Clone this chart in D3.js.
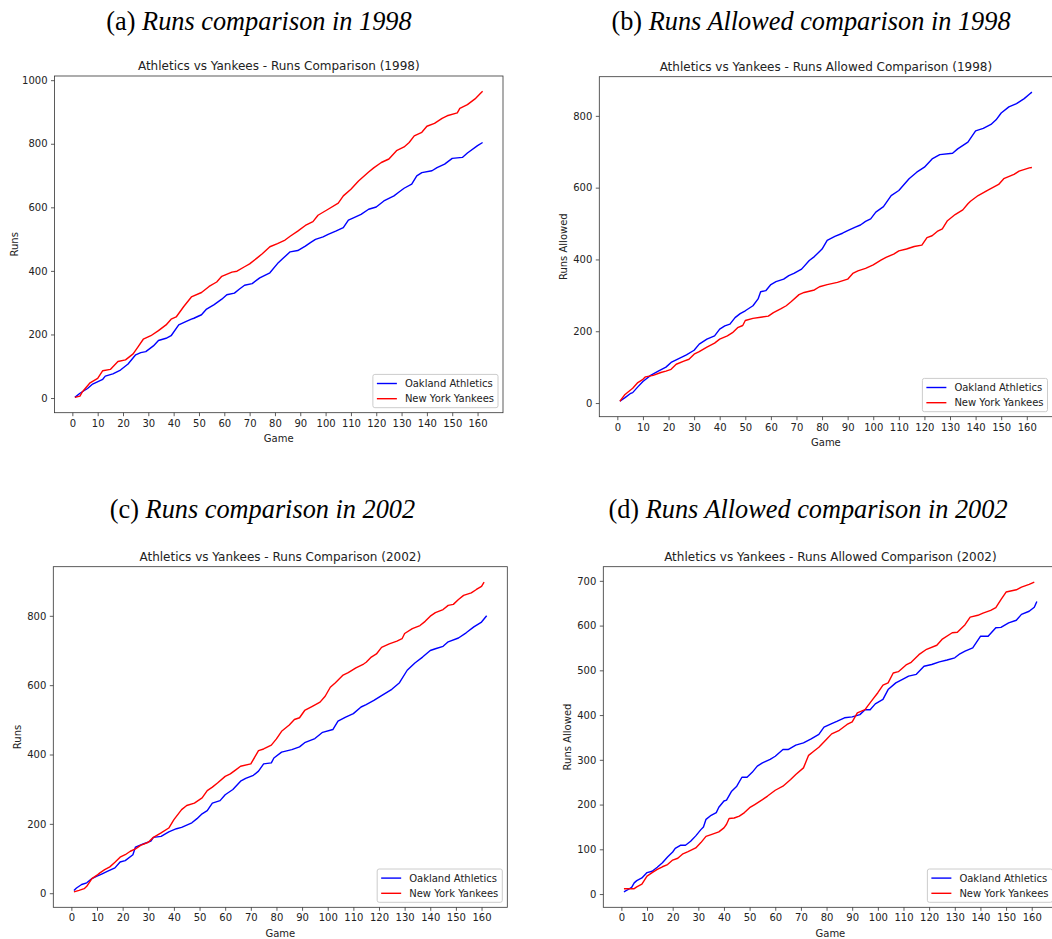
<!DOCTYPE html>
<html>
<head>
<meta charset="utf-8">
<script src="https://cdn.jsdelivr.net/npm/d3@7"></script>
<style>
body { margin: 0; background: #fff; }
svg text { font-family: "DejaVu Sans", sans-serif; fill: #222; }
svg text.caption { font-family: "Liberation Serif", "Times New Roman", serif; fill: #000; }
</style>
</head>
<body>
<svg id="chart" width="1052" height="939"></svg>
<script>
// cumulative totals: [game, total]
const athleticsRuns1998 = [[1,2],[3,15],[6,30],[8,44],[12,59],[13,69],[16,76],[19,88],[22,107],[25,136],[27,143],[29,146],[32,164],[34,181],[37,188],[39,196],[42,230],[45,241],[47,248],[48,251],[51,262],[53,280],[56,294],[59,311],[61,325],[64,330],[66,343],[68,355],[71,360],[74,378],[78,394],[81,423],[83,438],[86,460],[89,464],[92,478],[94,489],[96,499],[99,507],[101,515],[104,525],[107,536],[109,560],[111,567],[114,578],[117,594],[120,601],[123,620],[127,636],[129,648],[131,660],[134,673],[136,699],[138,709],[142,715],[144,725],[147,736],[150,754],[154,757],[156,771],[160,794],[162,804]];
const yankeesRuns1998 = [[1,2],[3,6],[4,20],[7,48],[10,62],[12,86],[15,90],[18,115],[21,120],[24,139],[26,162],[28,185],[31,196],[34,212],[37,230],[39,248],[41,255],[44,288],[47,318],[51,332],[54,351],[57,365],[59,383],[63,396],[65,399],[68,413],[70,422],[73,441],[75,454],[78,476],[81,486],[84,497],[86,509],[89,525],[92,543],[95,555],[97,575],[101,594],[105,613],[107,636],[110,657],[113,683],[117,711],[119,724],[122,741],[125,752],[128,778],[131,790],[133,804],[135,825],[138,836],[140,855],[143,864],[146,880],[148,888],[152,897],[153,911],[156,923],[159,941],[161,957],[162,965]];

const athleticsAllowed1998 = [[1,5],[3,15],[5,26],[6,29],[8,45],[10,60],[13,77],[16,89],[19,100],[21,113],[25,127],[27,134],[30,147],[32,164],[35,178],[38,187],[40,206],[42,215],[44,220],[46,238],[48,249],[50,257],[53,271],[55,290],[56,310],[58,313],[60,330],[62,338],[65,345],[67,355],[69,361],[72,373],[75,397],[77,408],[80,429],[82,453],[85,464],[88,473],[90,480],[93,490],[95,496],[97,506],[99,513],[101,532],[104,547],[107,578],[110,592],[114,625],[117,643],[120,657],[123,680],[126,692],[131,696],[133,708],[137,727],[140,758],[143,765],[146,776],[148,789],[150,808],[153,825],[156,834],[159,848],[161,860],[162,866]];
const yankeesAllowed1998 = [[1,5],[3,24],[6,41],[8,57],[10,66],[11,73],[14,77],[17,85],[19,89],[21,94],[23,108],[26,117],[28,122],[30,136],[32,143],[35,156],[38,167],[40,178],[43,187],[45,196],[47,210],[49,216],[50,230],[53,236],[56,239],[59,242],[61,252],[64,263],[66,271],[68,283],[71,302],[73,308],[77,315],[79,324],[82,330],[86,336],[90,345],[92,361],[94,368],[97,375],[100,385],[103,398],[105,406],[108,415],[110,424],[113,429],[116,436],[119,440],[121,461],[123,466],[125,478],[127,485],[129,508],[132,525],[135,538],[137,555],[138,562],[141,578],[145,594],[149,609],[151,625],[155,637],[157,646],[161,655],[162,656]];

const athleticsRuns2002 = [[1,8],[2,15],[4,25],[6,30],[8,42],[10,49],[12,56],[14,63],[17,73],[19,90],[21,94],[24,111],[25,133],[28,142],[31,150],[32,161],[35,164],[38,177],[41,186],[43,190],[47,203],[49,215],[51,229],[53,238],[55,260],[58,267],[60,284],[63,299],[66,323],[68,331],[71,340],[73,352],[75,373],[78,376],[79,390],[82,407],[86,414],[89,422],[91,434],[95,446],[98,464],[102,472],[104,496],[107,508],[110,518],[113,537],[115,544],[118,556],[121,570],[125,588],[128,607],[131,643],[134,664],[137,681],[140,700],[142,705],[145,712],[147,725],[151,736],[154,751],[157,768],[160,782],[162,800]];
const yankeesRuns2002 = [[1,4],[3,8],[5,13],[6,20],[8,42],[10,52],[11,58],[13,68],[15,76],[17,89],[19,104],[21,111],[23,121],[25,128],[27,138],[30,147],[32,161],[35,174],[38,188],[40,212],[43,241],[45,253],[48,260],[51,275],[53,296],[55,306],[57,318],[60,337],[62,344],[64,355],[66,366],[70,373],[73,411],[75,416],[78,427],[80,445],[82,467],[85,485],[87,501],[89,506],[91,527],[94,539],[97,551],[99,568],[101,594],[103,607],[106,629],[108,636],[111,650],[114,661],[115,666],[117,681],[119,690],[121,709],[124,719],[127,727],[129,734],[130,749],[133,763],[136,772],[138,784],[140,799],[142,809],[145,818],[147,830],[149,833],[151,847],[153,859],[156,866],[158,876],[160,885],[161,897]];

const athleticsAllowed2002 = [[1,5],[2,8],[4,15],[5,25],[6,30],[8,36],[10,48],[12,51],[14,60],[16,70],[18,83],[20,94],[21,102],[23,109],[25,109],[27,118],[29,130],[31,144],[32,150],[33,167],[35,176],[37,182],[38,194],[40,208],[41,210],[43,230],[45,241],[47,261],[49,261],[51,272],[53,286],[55,293],[58,301],[60,308],[63,323],[65,323],[68,333],[71,338],[74,347],[77,357],[79,373],[82,381],[84,386],[87,394],[90,396],[93,401],[95,412],[97,412],[99,425],[102,435],[104,457],[107,472],[110,481],[112,487],[115,491],[118,509],[121,513],[124,519],[127,523],[130,528],[132,537],[134,543],[137,550],[140,576],[143,576],[146,595],[148,596],[151,606],[154,612],[156,625],[159,632],[161,641],[162,654]];
const yankeesAllowed2002 = [[1,12],[3,12],[5,12],[6,16],[8,22],[10,40],[12,48],[14,55],[16,61],[18,66],[20,76],[22,80],[24,90],[26,95],[29,103],[31,115],[33,129],[35,133],[38,139],[40,148],[41,156],[42,169],[44,170],[46,174],[48,182],[50,193],[52,200],[55,211],[57,219],[60,232],[63,241],[66,256],[68,267],[71,282],[73,310],[75,319],[77,328],[80,346],[82,358],[85,366],[88,379],[90,385],[92,405],[95,412],[96,420],[98,435],[100,450],[102,467],[104,472],[106,494],[108,497],[111,512],[113,518],[116,535],[119,547],[123,556],[125,569],[129,584],[131,585],[134,602],[136,619],[139,623],[141,628],[144,634],[146,640],[148,658],[150,675],[154,680],[156,686],[159,692],[161,697]];

const gameTicks = d3.range(0, 161, 10);
const ticksRuns1998 = [0, 200, 400, 600, 800, 1000];
const ticksAllowed1998 = [0, 200, 400, 600, 800];
const ticksRuns2002 = [0, 200, 400, 600, 800];
const ticksAllowed2002 = [0, 100, 200, 300, 400, 500, 600, 700];
const seriesNames = ["Oakland Athletics", "New York Yankees"];
const seriesColors = ["blue", "red"];

const svg = d3.select("#chart");

const panels = [
    {tag: "(a)", caption: "Runs comparison in 1998", capX: 259, capY: 29.5,
     title: "Athletics vs Yankees - Runs Comparison (1998)", ylabel: "Runs", ylabelX: 18,
     box: {left: 54.5, right: 503, top: 76, bottom: 412.7},
     yTicks: ticksRuns1998, series: [athleticsRuns1998, yankeesRuns1998]},
    {tag: "(b)", caption: "Runs Allowed comparison in 1998", capX: 811, capY: 29.5,
     title: "Athletics vs Yankees - Runs Allowed Comparison (1998)", ylabel: "Runs Allowed", ylabelX: 567,
     box: {left: 599.3, right: 1052.5, top: 76.7, bottom: 416.7},
     yTicks: ticksAllowed1998, series: [athleticsAllowed1998, yankeesAllowed1998]},
    {tag: "(c)", caption: "Runs comparison in 2002", capX: 262.5, capY: 518,
     title: "Athletics vs Yankees - Runs Comparison (2002)", ylabel: "Runs", ylabelX: 21,
     box: {left: 53.3, right: 507.3, top: 566.7, bottom: 907.3},
     yTicks: ticksRuns2002, series: [athleticsRuns2002, yankeesRuns2002]},
    {tag: "(d)", caption: "Runs Allowed comparison in 2002", capX: 808, capY: 518,
     title: "Athletics vs Yankees - Runs Allowed Comparison (2002)", ylabel: "Runs Allowed", ylabelX: 571,
     box: {left: 603.3, right: 1057.5, top: 566.7, bottom: 907.3},
     yTicks: ticksAllowed2002, series: [athleticsAllowed2002, yankeesAllowed2002]}
];

panels.forEach(drawPanel);

// pad a data extent by 5% like matplotlib does
function padded(ext) {
    const m = (ext[1] - ext[0]) * 0.05;
    return [ext[0] - m, ext[1] + m];
}

function drawPanel(p) {
    const b = p.box;
    const all = p.series.flat();

    const x = d3.scaleLinear().domain(padded(d3.extent(all, d => d[0]))).range([b.left, b.right]);
    const y = d3.scaleLinear().domain(padded(d3.extent(all, d => d[1]))).range([b.bottom, b.top]);

    // subfigure caption
    const cap = svg.append("text")
        .attr("class", "caption")
        .attr("x", p.capX)
        .attr("y", p.capY)
        .attr("text-anchor", "middle")
        .style("font-size", "26.3px");
    cap.append("tspan").text(p.tag + " ");
    cap.append("tspan").style("font-style", "italic").text(p.caption);

    // axes
    const xAxis = svg.append("g")
        .attr("transform", `translate(0,${b.bottom})`)
        .call(d3.axisBottom(x).tickValues(gameTicks).tickFormat(d3.format("d"))
            .tickSize(3.5).tickPadding(3.5).tickSizeOuter(0));
    const yAxis = svg.append("g")
        .attr("transform", `translate(${b.left},0)`)
        .call(d3.axisLeft(y).tickValues(p.yTicks).tickFormat(d3.format("d"))
            .tickSize(3.5).tickPadding(3.5).tickSizeOuter(0));

    [xAxis, yAxis].forEach(a => {
        a.select(".domain").remove();
        a.selectAll(".tick line").attr("stroke", "#333").attr("stroke-width", 0.8);
        a.selectAll(".tick text").style("font-size", "10px").attr("fill", "#222");
    });

    // lines
    const line = d3.line().x(d => x(d[0])).y(d => y(d[1]));
    p.series.forEach((s, i) => {
        svg.append("path")
            .datum(s)
            .attr("fill", "none")
            .attr("stroke", seriesColors[i])
            .attr("stroke-width", 1.4)
            .attr("stroke-linejoin", "round")
            .attr("d", line);
    });

    // frame
    svg.append("rect")
        .attr("x", b.left)
        .attr("y", b.top)
        .attr("width", b.right - b.left)
        .attr("height", b.bottom - b.top)
        .attr("fill", "none")
        .attr("stroke", "#333")
        .attr("stroke-width", 0.8);

    // title and axis labels
    svg.append("text")
        .attr("x", (b.left + b.right) / 2)
        .attr("y", b.top - 6)
        .attr("text-anchor", "middle")
        .style("font-size", "12px")
        .text(p.title);

    svg.append("text")
        .attr("x", (b.left + b.right) / 2)
        .attr("y", b.bottom + 29.5)
        .attr("text-anchor", "middle")
        .style("font-size", "10px")
        .text("Game");

    svg.append("text")
        .attr("transform", `translate(${p.ylabelX},${(b.top + b.bottom) / 2}) rotate(-90)`)
        .attr("text-anchor", "middle")
        .style("font-size", "10px")
        .text(p.ylabel);

    // legend, lower right
    const lg = svg.append("g");
    const frame = lg.append("rect");
    const labels = seriesNames.map((name, i) => lg.append("text")
        .style("font-size", "10px")
        .attr("dominant-baseline", "central")
        .text(name));
    const textW = d3.max(labels, t => t.node().getComputedTextLength());
    const w = 4 + 20 + 8 + textW + 4, h = 33.3;
    const lx = b.right - 5 - w, ly = b.bottom - 5 - h;
    frame.attr("x", lx).attr("y", ly).attr("width", w).attr("height", h)
        .attr("rx", 2).attr("fill", "rgba(255,255,255,0.8)")
        .attr("stroke", "#ccc").attr("stroke-width", 1);
    seriesNames.forEach((name, i) => {
        const cy = ly + 9.1 + i * 15.2;
        lg.append("line")
            .attr("x1", lx + 4).attr("x2", lx + 24)
            .attr("y1", cy).attr("y2", cy)
            .attr("stroke", seriesColors[i]).attr("stroke-width", 1.4);
        labels[i].attr("x", lx + 32).attr("y", cy);
    });
}
</script>
</body>
</html>
